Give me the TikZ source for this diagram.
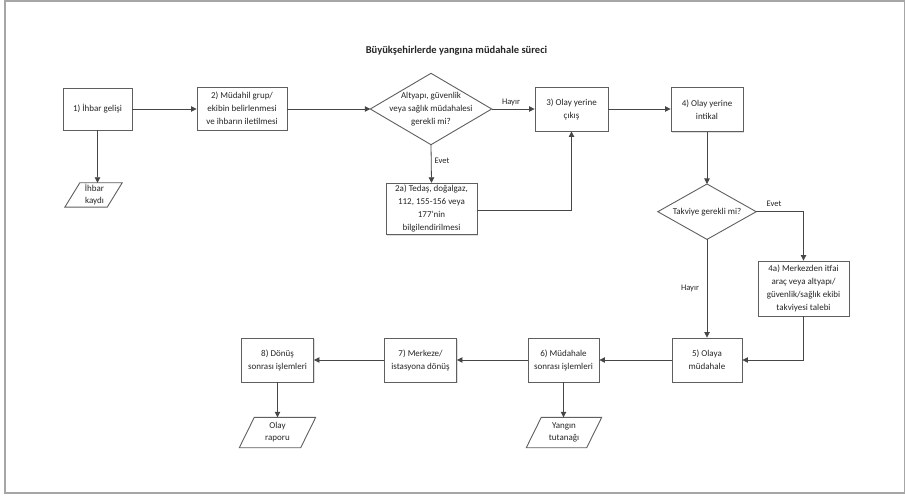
\documentclass[tikz,border=0pt]{standalone}
\usepackage{fontspec}
\setmainfont{Carlito}
\usetikzlibrary{arrows.meta,shadows,calc}
\definecolor{ln}{RGB}{70,70,70}
\definecolor{bd}{RGB}{95,95,95}
\begin{document}
\begin{tikzpicture}[x=1pt,y=-1pt,
  every node/.style={font=\fontsize{9}{13}\selectfont, text=black!85},
  proc/.style={draw=bd, line width=0.9pt, fill=white, align=center, inner sep=2pt,
    drop shadow={opacity=0.25, shadow xshift=1.2pt, shadow yshift=-1.2pt}},
  txt/.style={align=center, inner sep=0pt},
  conn/.style={draw=ln, line width=0.8pt, -{Triangle[length=5.5pt,width=5.5pt]}},
  plain/.style={draw=ln, line width=0.8pt},
  shapeline/.style={draw=bd, line width=0.9pt, fill=white},
  lbl/.style={font=\fontsize{8.5}{10}\selectfont, inner sep=0pt}]
\useasboundingbox (0,0) rectangle (905,497);
\draw[gray!70, line width=1.2pt] (5,1) rectangle (904.5,493);

\node[font=\bfseries\fontsize{10.5}{12}\selectfont] (title) at (456.5,51) {Büyükşehirlerde yangına müdahale süreci};

% boxes
\node[proc, minimum width=69, minimum height=42] (b1) at (97.5,109) {1) İhbar gelişi};
\node[proc, minimum width=90, minimum height=43] (b2) at (242,108.5) {2) Müdahil grup/\\ekibin belirlenmesi\\ve ihbarın iletilmesi};
\node[proc, minimum width=73, minimum height=44] (b3) at (571.5,109) {3) Olay yerine\\çıkış};
\node[proc, minimum width=72, minimum height=44] (b4) at (707,109.5) {4) Olay yerine\\intikal};
\node[proc, minimum width=91, minimum height=51] (b2a) at (431.5,208.8) {2a) Tedaş, doğalgaz,\\112, 155-156 veya\\177'nin\\bilgilendirilmesi};
\node[proc, minimum width=91, minimum height=55] (b4a) at (803.5,288.5) {4a) Merkezden itfai\\araç veya altyapı/\\güvenlik/sağlık ekibi\\takviyesi talebi};
\node[proc, minimum width=70, minimum height=44] (b5) at (707,360) {5) Olaya\\müdahale};
\node[proc, minimum width=71, minimum height=44] (b6) at (563.5,360) {6) Müdahale\\sonrası işlemleri};
\node[proc, minimum width=72, minimum height=44] (b7) at (420.5,360) {7) Merkeze/\\istasyona dönüş};
\node[proc, minimum width=72, minimum height=44] (b8) at (277.5,360) {8) Dönüş\\sonrası işlemleri};

% diamonds
\node[txt, minimum width=121, minimum height=71] (d1) at (431,109) {};
\filldraw[shapeline] (d1.west) -- (d1.north) -- (d1.east) -- (d1.south) -- cycle;
\node[txt] at (d1.center) {Altyapı, güvenlik\\veya sağlık müdahalesi\\gerekli mi?};
\node[txt, minimum width=98, minimum height=55] (d2) at (707,211.7) {};
\filldraw[shapeline] (d2.west) -- (d2.north) -- (d2.east) -- (d2.south) -- cycle;
\node[txt] at (d2.center) {Takviye gerekli mi?};

% parallelograms (documents)
\node[txt, minimum width=57, minimum height=24] (k1) at (93.5,195) {};
\filldraw[shapeline] (k1.south west) -- ([xshift=15]k1.north west) -- (k1.north east) -- ([xshift=-15]k1.south east) -- cycle;
\node[txt, font=\fontsize{9}{12}\selectfont] at ([xshift=1]k1.center) {İhbar\\kaydı};
\node[txt, minimum width=75, minimum height=30] (k2) at (564,432.5) {};
\filldraw[shapeline] (k2.south west) -- ([xshift=15]k2.north west) -- (k2.north east) -- ([xshift=-15]k2.south east) -- cycle;
\node[txt, font=\fontsize{9}{12}\selectfont] at (k2.center) {Yangın\\tutanağı};
\node[txt, minimum width=76, minimum height=30] (k3) at (277.5,432.5) {};
\filldraw[shapeline] (k3.south west) -- ([xshift=15]k3.north west) -- (k3.north east) -- ([xshift=-15]k3.south east) -- cycle;
\node[txt, font=\fontsize{9}{12}\selectfont] at (k3.center) {Olay\\raporu};

% connectors
\draw[conn] (b1.east) -- (b1.east -| b2.west);
\draw[conn] (b1.south) -- (b1.south |- k1.north);
\draw[conn] (b2.east |- d1.west) -- (d1.west);
\draw[conn] (d1.east) -- (d1.east -| b3.west);
\draw[conn] (d1.south) -- (b2a.north);
\draw[conn] (b2a.east |- 0,210) -| (b3.south);
\draw[conn] (b3.east) -- (b3.east -| b4.west);
\draw[conn] (b4.south) -- (d2.north);
\draw[conn] (d2.east) -| (b4a.north);
\draw[conn] (d2.south) -- (b5.north);
\draw[conn] (b4a.south) |- (b5.east);
\draw[conn] (b5.west) -- (b6.east);
\draw[conn] (b6.west) -- (b7.east);
\draw[conn] (b7.west) -- (b8.east);
\draw[conn] (b6.south) -- (b6.south |- k2.north);
\draw[conn] (b8.south) -- (b8.south |- k3.north);

% labels
\node[lbl] (l1) at (511,102) {Hayır};
\node[lbl] (l2) at (442,161) {Evet};
\node[lbl] (l3) at (774,204) {Evet};
\node[lbl] (l4) at (690,288) {Hayır};
\end{tikzpicture}
\end{document}
